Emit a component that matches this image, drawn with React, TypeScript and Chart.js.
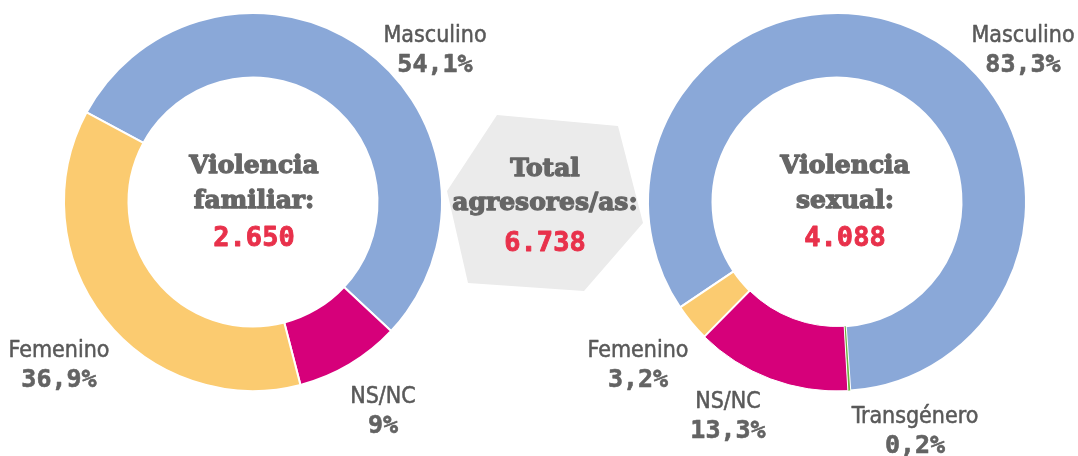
import React, { useEffect, useRef } from 'react';
import { Chart, registerables } from 'chart.js';

Chart.register(...registerables);

const W = 1078;
const H = 456;

// ---- data ----
const familiarLabels = ['Masculino', 'NS/NC', 'Femenino'];
const familiarValues = [54.1, 9, 36.9];
const familiarTotal = 2650;

const sexualLabels = ['Masculino', 'Transgénero', 'NS/NC', 'Femenino'];
const sexualValues = [83.3, 0.2, 13.3, 3.2];
const sexualTotal = 4088;

const grandTotal = 6738;

const familiarTitle = ['Violencia', 'familiar:'];
const sexualTitle = ['Violencia', 'sexual:'];
const totalTitle = ['Total', 'agresores/as:'];

// ---- styles ----
const COLORS: Record<string, string> = {
  Masculino: '#8AA8D8',
  'NS/NC': '#D6007A',
  Femenino: '#FBCB70',
  'Transgénero': '#6CB33F',
};
const GRAY_TITLE = '#666666';
const GRAY_LABEL = '#595959';
const GRAY_PCT = '#636363';
const RED = '#E8314B';

const TITLE_FONT = 'bold 25px "DejaVu Serif", serif';
const NUM_FONT = 'bold 27px "DejaVu Sans Mono", monospace';
const LABEL_FONT = '23px "DejaVu Sans Condensed", "DejaVu Sans", sans-serif';
const PCT_FONT = 'bold 25px "DejaVu Sans Mono", monospace';

const OUTER_R = 189;
const INNER_R = 124.5;

// white separator width per slice (thin slices get thinner borders so they stay visible)
const BORDER_W: Record<string, number> = {
  Masculino: 2,
  Femenino: 2,
  'NS/NC': 2,
  'Transgénero': 0,
};

// label anchors (center x, baseline of category name)
const familiarLabelPos: Record<string, [number, number]> = {
  Masculino: [435, 42],
  'NS/NC': [383, 403],
  Femenino: [59, 357],
};
const sexualLabelPos: Record<string, [number, number]> = {
  Masculino: [1023, 42],
  'Transgénero': [915, 423],
  'NS/NC': [728, 408],
  Femenino: [638, 357],
};

const hexagon: [number, number][] = [
  [497, 115], [618, 126], [643, 223], [584, 291], [468, 283], [447, 191],
];

const fmtThousands = (n: number) => String(n).replace(/\B(?=(\d{3})+(?!\d))/g, '.');
const fmtPct = (v: number) => String(v).replace('.', ',') + '%';

function heavyText(ctx: CanvasRenderingContext2D, text: string, x: number, y: number, color: string, font: string, stroke: number) {
  ctx.font = font;
  ctx.fillStyle = color;
  ctx.fillText(text, x, y);
  if (stroke > 0) {
    ctx.lineWidth = stroke;
    ctx.strokeStyle = color;
    ctx.lineJoin = 'round';
    ctx.strokeText(text, x, y);
  }
}

function drawBlock(ctx: CanvasRenderingContext2D, cx: number, lines: string[], num: number, baselines: number[]) {
  ctx.save();
  ctx.textAlign = 'center';
  ctx.textBaseline = 'alphabetic';
  heavyText(ctx, lines[0], cx, baselines[0], GRAY_TITLE, TITLE_FONT, 1.3);
  heavyText(ctx, lines[1], cx, baselines[1], GRAY_TITLE, TITLE_FONT, 1.3);
  heavyText(ctx, fmtThousands(num), cx, baselines[2], RED, NUM_FONT, 0.9);
  ctx.restore();
}

function drawLabels(ctx: CanvasRenderingContext2D, labels: string[], values: number[], pos: Record<string, [number, number]>) {
  ctx.save();
  ctx.textAlign = 'center';
  ctx.textBaseline = 'alphabetic';
  labels.forEach((lab, i) => {
    const [x, y] = pos[lab];
    heavyText(ctx, lab, x, y, GRAY_LABEL, LABEL_FONT, 0.5);
    heavyText(ctx, fmtPct(values[i]), x, y + 30, GRAY_PCT, PCT_FONT, 0.6);
  });
  ctx.restore();
}

function makeChart(
  canvas: HTMLCanvasElement,
  labels: string[],
  values: number[],
  rotation: number,
  padding: { left: number; right: number; top: number; bottom: number },
  borders: number[],
  extraPlugin: any
) {
  return new Chart(canvas, {
    type: 'doughnut',
    data: {
      labels,
      datasets: [
        {
          data: values,
          backgroundColor: labels.map((l) => COLORS[l]),
          borderColor: '#FFFFFF',
          borderWidth: borders,
          hoverOffset: 0,
        },
      ],
    },
    options: {
      responsive: false,
      maintainAspectRatio: false,
      animation: false,
      events: [],
      rotation,
      radius: OUTER_R,
      cutout: `${(INNER_R / OUTER_R) * 100}%`,
      layout: { padding },
      plugins: {
        legend: { display: false },
        tooltip: { enabled: false },
        title: { display: false },
      },
    },
    plugins: [extraPlugin],
  } as any);
}

export default function App() {
  const leftRef = useRef<HTMLCanvasElement>(null);
  const rightRef = useRef<HTMLCanvasElement>(null);

  useEffect(() => {
    document.body.style.margin = '0';
    const leftPlugin = {
      id: 'leftDecor',
      beforeDraw(chart: any) {
        const ctx = chart.ctx as CanvasRenderingContext2D;
        ctx.save();
        ctx.fillStyle = '#EBEBEB';
        ctx.beginPath();
        hexagon.forEach(([x, y], i) => (i === 0 ? ctx.moveTo(x, y) : ctx.lineTo(x, y)));
        ctx.closePath();
        ctx.fill();
        ctx.restore();
      },
      afterDraw(chart: any) {
        const ctx = chart.ctx as CanvasRenderingContext2D;
        drawBlock(ctx, 545, totalTitle, grandTotal, [176, 210, 251]);
        drawBlock(ctx, 254, familiarTitle, familiarTotal, [173, 208, 246]);
        drawLabels(ctx, familiarLabels, familiarValues, familiarLabelPos);
      },
    };
    const rightPlugin = {
      id: 'rightDecor',
      afterDraw(chart: any) {
        const ctx = chart.ctx as CanvasRenderingContext2D;
        drawBlock(ctx, 845, sexualTitle, sexualTotal, [173, 208, 246]);
        drawLabels(ctx, sexualLabels, sexualValues, sexualLabelPos);
      },
    };
    const familiarBorders = familiarLabels.map((l) => BORDER_W[l]);
    // NS/NC sits next to the very thin Transgénero slice: thinner separator there
    const sexualBorders = sexualLabels.map((l) => (l === 'NS/NC' ? 1 : BORDER_W[l]));
    // left ring center (253, 202); right ring center (837, 202)
    const left = makeChart(leftRef.current!, familiarLabels, familiarValues, -61.7,
      { left: 0, top: 0, right: W - 506, bottom: H - 404 }, familiarBorders, leftPlugin);
    const right = makeChart(rightRef.current!, sexualLabels, sexualValues, -123.9,
      { left: 649, top: 0, right: W - 1025, bottom: H - 404 }, sexualBorders, rightPlugin);
    return () => {
      left.destroy();
      right.destroy();
    };
  }, []);

  return (
    <div style={{ position: 'relative', width: W, height: H, background: '#FFFFFF', overflow: 'hidden' }}>
      <canvas ref={leftRef} width={W} height={H} style={{ position: 'absolute', left: 0, top: 0, width: W, height: H }} />
      <canvas ref={rightRef} width={W} height={H} style={{ position: 'absolute', left: 0, top: 0, width: W, height: H }} />
    </div>
  );
}
